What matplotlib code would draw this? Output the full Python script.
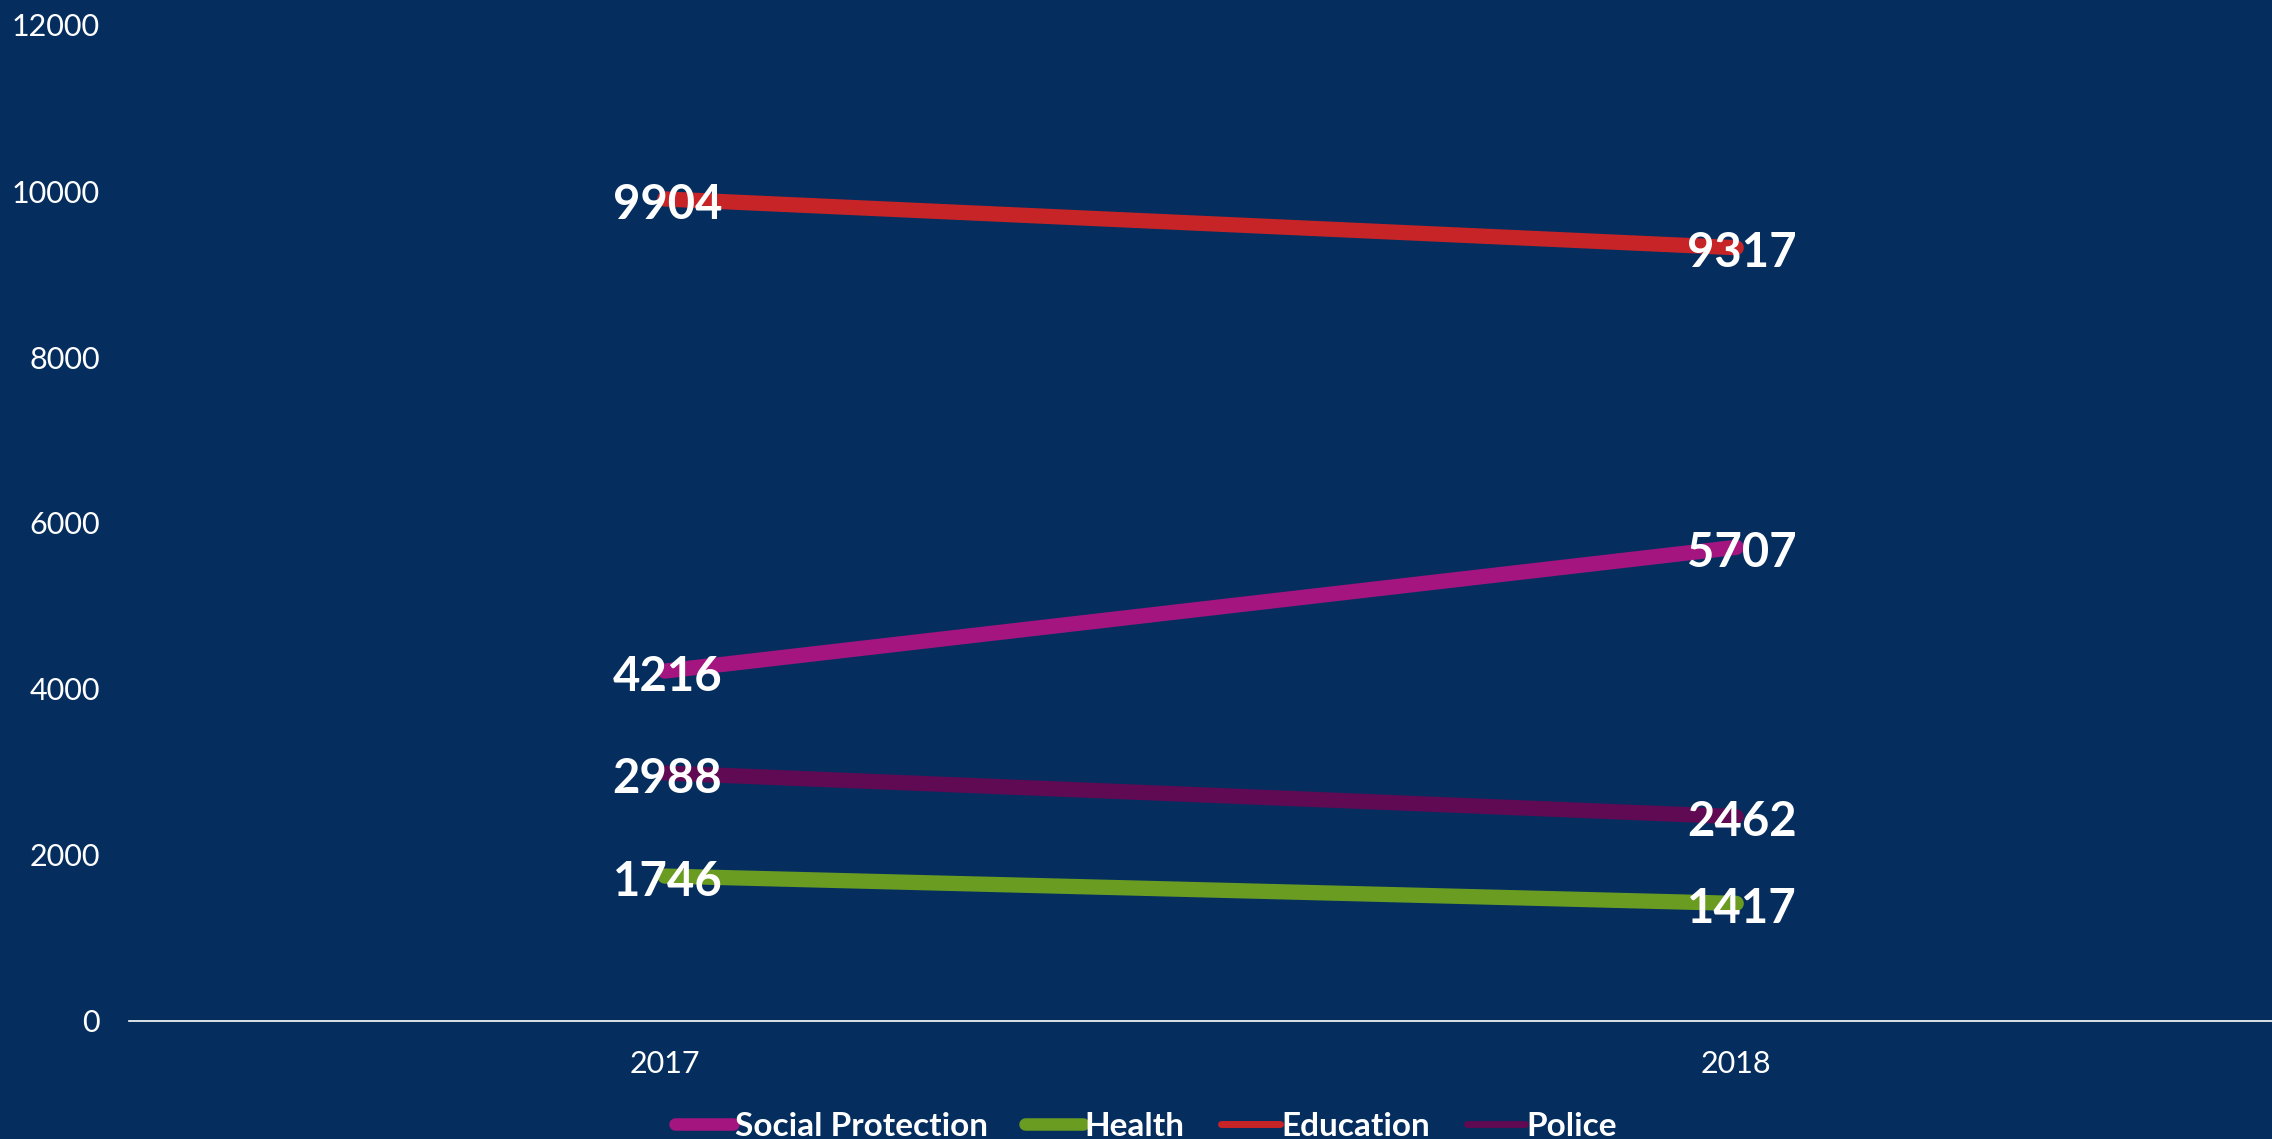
import matplotlib
matplotlib.use("Agg")
import matplotlib.pyplot as plt
import numpy as np

years = ["2017", "2018"]
series_names = ["Social Protection", "Health", "Education", "Police"]
social_protection = [4216, 5707]
health = [1746, 1417]
education = [9904, 9317]
police = [2988, 2462]
y_ticks = [0, 2000, 4000, 6000, 8000, 10000, 12000]

colors = {"Social Protection": "#A51580", "Health": "#6A9C22",
          "Education": "#C62426", "Police": "#5F0A52"}
legend_lw = {"Social Protection": 9, "Health": 9, "Education": 5, "Police": 5}
values = {"Social Protection": social_protection, "Health": health,
          "Education": education, "Police": police}

bg = "#052E5F"
fig = plt.figure(figsize=(22.72, 11.39), dpi=100, facecolor=bg)
ax = fig.add_axes([129/2272, 1-1021/1139, 1-129/2272, (1021-25)/1139])
ax.set_facecolor(bg)

x = np.arange(len(years))
handles = []
for name in ["Education", "Social Protection", "Police", "Health"]:
    ax.plot(x, values[name], color=colors[name], lw=11, solid_capstyle="round", zorder=2)
for name in series_names:
    h, = ax.plot([], [], color=colors[name], lw=legend_lw[name], solid_capstyle="round")
    handles.append(h)

for name in series_names:
    for xi, v in zip(x, values[name]):
        ax.annotate(f"{v}", (xi, v), xytext=(2 + 2 * xi, -4), textcoords="offset points",
                    color="white", fontsize=34, fontweight="bold",
                    family=["Lato", "DejaVu Sans"], ha="center", va="center", zorder=3)

ax.set_xlim(-0.5, 1.5)
ax.set_ylim(0, 12000)
ax.set_xticks(x)
ax.set_xticklabels(years)
ax.set_yticks(y_ticks)
ax.set_yticklabels([str(t) for t in y_ticks])
for lbl in ax.get_xticklabels() + ax.get_yticklabels():
    lbl.set_family(["Lato", "DejaVu Sans"])
    lbl.set_fontweight("normal")
    lbl.set_fontsize(22)
    lbl.set_color("white")
ax.tick_params(axis="both", length=0)
ax.tick_params(axis="y", pad=21)
ax.tick_params(axis="x", pad=21)
for s in ["top", "right", "left"]:
    ax.spines[s].set_visible(False)
ax.spines["bottom"].set_color("white")
ax.spines["bottom"].set_linewidth(1.2)

leg = fig.legend(handles, series_names, loc="center", bbox_to_anchor=(1146/2272, 13/1139),
                 ncol=4, frameon=False, handlelength=1.75, handletextpad=0.05, columnspacing=1.1,
                 prop={"family": ["Lato", "DejaVu Sans"], "weight": "bold", "size": 24})
for t in leg.get_texts():
    t.set_color("white")

fig.savefig("out.png", dpi=100, facecolor=bg)
